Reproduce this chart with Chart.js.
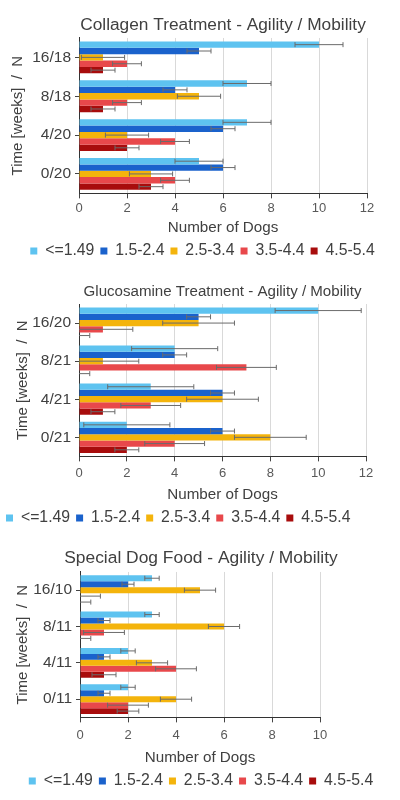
<!DOCTYPE html>
<html>
<head>
<meta charset="utf-8">
<script src="https://cdn.jsdelivr.net/npm/chart.js@4.4.1/dist/chart.umd.min.js"></script>
<style>
  body{margin:0;background:#fff;width:400px;height:800px;overflow:hidden;font-family:"Liberation Sans",Arial,sans-serif}
  .panel{position:absolute;left:0;width:400px}
</style>
</head>
<body>
<div class="panel" style="top:0;height:265px"><canvas id="collagenchart"></canvas></div>
<div class="panel" style="top:266px;height:266px"><canvas id="glucosaminechart"></canvas></div>
<div class="panel" style="top:534px;height:266px"><canvas id="dogfoodchart"></canvas></div>
<script>
// legend / score groups
const scoregroups=['<=1.49','1.5-2.4','2.5-3.4','3.5-4.4','4.5-5.4']
const scorecolors=['#5ec3f0','#1a62cc','#f4b40c','#e8484b','#a80c0c']

// collagen
const collagenlabels=['16/18','8/18','4/20','0/20']
const collagenvalues=[
    [10,7,7,5],
    [5,4,6,6],
    [1,5,2,3],
    [2,2,4,4],
    [1,1,2,3]
]
const collagenerrors=[
    [1,1,1,1],
    [0.5,0.5,0.5,0.5],
    [0.9,0.9,0.9,0.9],
    [0.6,0.6,0.6,0.6],
    [0.5,0.5,0.5,0.5]
]

// glucosamine
const glucosaminelabels=['16/20','8/21','4/21','0/21']
const glucosaminevalues=[
    [10,4,3,2],
    [5,4,6,6],
    [5,1,6,8],
    [1,7,3,4],
    [0,0,1,2]
]
const glucosamineerrors=[
    [1.8,1.8,1.8,1.8],
    [0.5,0.5,0.5,0.5],
    [1.5,1.5,1.5,1.5],
    [1.25,1.25,1.25,1.25],
    [0.45,0.45,0.5,0.5]
]

// special dog food
const dogfoodlabels=['16/10','8/11','4/11','0/11']
const dogfoodvalues=[
    [3,3,2,2],
    [2,1,1,1],
    [5,6,3,4],
    [0,1,4,2],
    [0,0,1,2]
]
const dogfooderrors=[
    [0.3,0.3,0.3,0.3],
    [0.25,0.25,0.25,0.25],
    [0.65,0.65,0.65,0.65],
    [0.85,0.85,0.85,0.85],
    [0.45,0.45,0.5,0.45]
]

const xticklabelsbig=[0,2,4,6,8,10,12]
const xticklabelssmall=[0,2,4,6,8,10]

// draw error whiskers on each bar
const errorbarplugin={
    id:'errorbars',
    afterDatasetsDraw(chart){
        const ctx=chart.ctx, xscale=chart.scales.x
        chart.data.datasets.forEach((ds,di)=>{
            const meta=chart.getDatasetMeta(di)
            meta.data.forEach((bar,i)=>{
                const v=ds.data[i], e=ds.errors[i]
                const x1=xscale.getPixelForValue(Math.max(0,v-e)), x2=xscale.getPixelForValue(v+e)
                const y=bar.y
                ctx.save()
                ctx.strokeStyle='#6b6b6b'
                ctx.lineWidth=1
                ctx.beginPath()
                ctx.moveTo(x1,y);ctx.lineTo(x2,y)
                ctx.moveTo(x2,y-2.5);ctx.lineTo(x2,y+2.5)
                if(v-e>0){ctx.moveTo(x1,y-2.5);ctx.lineTo(x1,y+2.5)}
                ctx.stroke()
                ctx.restore()
            })
        })
    }
}

// o = layout settings for one panel
function makechart(id,title,labels,values,errors,xmax,ticks,o){
    const datasets=scoregroups.map((g,k)=>({
        label:g,
        data:values[k],
        errors:errors[k],
        backgroundColor:scorecolors[k],
        borderWidth:0,
        categoryPercentage:0.82,
        barPercentage:1.0
    }))
    return new Chart(document.getElementById(id),{
        type:'bar',
        data:{labels:labels,datasets:datasets},
        plugins:[errorbarplugin],
        options:{
            indexAxis:'y',
            responsive:true,
            maintainAspectRatio:false,
            animation:false,
            layout:{padding:{top:0,right:4,bottom:o.padbottom,left:o.padleft}},
            scales:{
                x:{
                    min:0,max:xmax,
                    afterBuildTicks:(s)=>{s.ticks=ticks.map(t=>({value:t}))},
                    grid:{color:'#d9d9d9',tickColor:'#444',tickLength:5},
                    border:{color:'#333',width:1},
                    ticks:{color:'#595959',font:{size:13,family:'Liberation Sans'},padding:o.xtickpad},
                    title:{display:true,text:'Number of Dogs',color:'#404040',font:{size:15.2,family:'Liberation Sans'},padding:{top:1,bottom:0}}
                },
                y:{
                    grid:{display:true,drawOnChartArea:false,offset:false,tickLength:4,tickColor:'#444'},
                    border:{color:'#333',width:1},
                    ticks:{color:'#404040',font:{size:15.5,family:'Liberation Sans'},padding:4},
                    title:{display:true,text:'Time [weeks]  /  N',color:'#404040',font:{size:15,family:'Liberation Sans'},padding:{top:o.ytitlepad,bottom:4}},
                    afterFit:(s)=>{s.width=o.left-o.padleft}
                },
                // empty spacer on the right so the plot ends where the original does
                spacer:{
                    type:'linear',
                    position:'right',
                    display:true,
                    grid:{display:false},
                    border:{display:false},
                    ticks:{display:false},
                    afterFit:(s)=>{s.width=396-o.right}
                }
            },
            plugins:{
                title:{display:true,fullSize:o.titlefull,text:title,color:'#404040',font:{size:o.titlesize,family:'Liberation Sans',weight:'normal'},padding:{top:o.titletop,bottom:o.titlebottom}},
                legend:{
                    display:true,
                    position:'bottom',
                    align:o.legendalign,
                    labels:{color:'#404040',font:{size:15.8,family:'Liberation Sans'},boxWidth:7,boxHeight:7,padding:6}
                },
                tooltip:{enabled:false}
            }
        }
    })
}

makechart('collagenchart','Collagen Treatment - Agility / Mobility',collagenlabels,collagenvalues,collagenerrors,12,xticklabelsbig,
    {left:79,right:367,padleft:9,padbottom:-4,xtickpad:2,ytitlepad:0,titlesize:17.3,titlefull:false,titletop:14.6,titlebottom:2.6,legendalign:'center'})
makechart('glucosaminechart','Glucosamine Treatment - Agility / Mobility',glucosaminelabels,glucosaminevalues,glucosamineerrors,12,xticklabelsbig,
    {left:79,right:366,padleft:0,padbottom:-4,xtickpad:4,ytitlepad:14,titlesize:15.1,titlefull:false,titletop:17,titlebottom:2.9,legendalign:'start'})
makechart('dogfoodchart','Special Dog Food - Agility / Mobility',dogfoodlabels,dogfoodvalues,dogfooderrors,10,xticklabelssmall,
    {left:80,right:320,padleft:6,padbottom:1,xtickpad:5,ytitlepad:8,titlesize:17.4,titlefull:true,titletop:13.5,titlebottom:3.6,legendalign:'center'})
</script>
</body>
</html>
